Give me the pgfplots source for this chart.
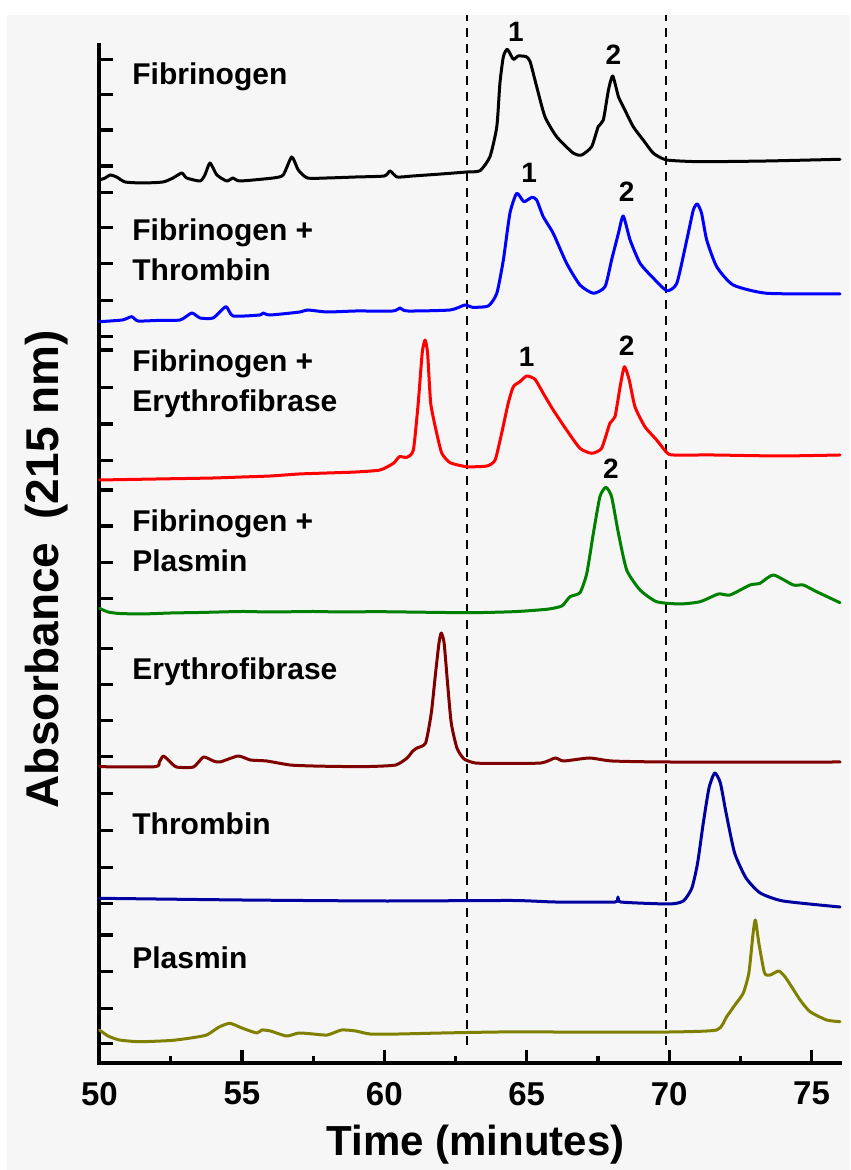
\documentclass[border=0pt]{standalone}
\usepackage{fontspec}
\setmainfont{Liberation Sans}
\usepackage{pgfplots}
\pgfplotsset{compat=1.18}
\definecolor{bgpanel}{HTML}{F6F6F6}
\definecolor{trblack}{HTML}{000000}
\definecolor{trblue}{HTML}{0000FF}
\definecolor{trred}{HTML}{FF0000}
\definecolor{trgreen}{HTML}{008000}
\definecolor{trmaroon}{HTML}{800000}
\definecolor{trnavy}{HTML}{0000A0}
\definecolor{trolive}{HTML}{808000}
\pgfplotsset{
    trace/.style={line width=1.5pt,line join=round,line cap=round,no marks,smooth,tension=0.35},
}
\tikzset{
    lbl/.style={font=\bfseries\fontsize{15}{20}\selectfont,anchor=west,align=left,inner sep=0pt},
    num/.style={font=\bfseries\fontsize{14}{16}\selectfont,inner sep=0pt},
}
\begin{document}
\begin{tikzpicture}
% page and grey panel (1 px = 0.5 pt)
\fill[white] (-49.75pt,-53.5pt) rectangle (375.25pt,531.5pt);
\fill[bgpanel] (-46.25pt,-53.5pt) rectangle (375.25pt,524pt);
\begin{axis}[
    scale only axis,
    width=370.25pt, height=509pt,
    xmin=50, xmax=76, ymin=0, ymax=1018,
    axis x line*=bottom, axis y line*=left,
    axis line style={line width=2pt,line cap=rect},
    tick align=inside,
    tick style={line width=1.6pt,black},
    major tick length=6.5pt, minor tick length=3.5pt,
    xtick={50,55,60,65,70,75},
    minor xtick={52.5,57.5,62.5,67.5,72.5},
    ytick={19.7,54.7,91.3,128,159.7,195.3,232.3,269.7,306.3,342.3,378.7,414.7,
           464.7,500.7,537,573,602.3,639,675.7,713,726.3,762.3,799.7,835.3,870.7,
           897,933,968.7,1003.7},
    yticklabels={},
    /pgf/number format/assume math mode=true,
    xticklabel style={font=\bfseries\fontsize{16.5}{18}\selectfont,yshift=-6pt},
    xlabel={Time (minutes)},
    ylabel={Absorbance\hspace{0.5em}(215 nm)},
    xlabel style={font=\bfseries\fontsize{21}{24}\selectfont,
        at={(axis description cs:0.508,-0.0904)},anchor=base},
    ylabel style={font=\bfseries\fontsize{23}{26}\selectfont,
        at={(axis description cs:-0.0709,0.485)},anchor=center},
    clip=false,
]
% dashed window
\addplot[black,line width=1.2pt,dash pattern=on 4.5pt off 3.5pt] coordinates {(62.9,18) (62.9,1048)};
\addplot[black,line width=1.2pt,dash pattern=on 4.5pt off 3.5pt] coordinates {(69.9,18) (69.9,1048)};

% Fibrinogen
\addplot[trace,trblack] coordinates {
(50.00,883) (50.20,885) (50.37,888) (50.60,886) (50.90,881) (51.53,880)
(52.23,881) (52.58,885) (52.89,890) (53.06,885) (53.53,882) (53.70,888)
(53.88,900) (54.12,888) (54.47,882) (54.69,885) (54.93,882) (56.10,885)
(56.45,888) (56.75,906) (56.98,893) (57.30,885) (58.00,885) (59.00,886)
(60.00,887) (60.20,892) (60.45,886) (61.00,887) (62.00,889) (62.90,891)
(63.36,892.3) (63.71,906.3) (63.95,936.3) (64.06,980) (64.18,1006.3)
(64.32,1013.7) (64.53,1003.7) (64.70,1007) (64.98,1006.3) (65.12,1001.3)
(65.35,976.3) (65.64,946.3) (66.05,926.3) (66.64,909.7) (66.93,908)
(67.28,916.3) (67.51,936.3) (67.69,943) (67.87,973) (68.02,987)
(68.22,966.3) (68.39,956.3) (68.74,936.3) (69.09,923) (69.45,909.7)
(69.92,903) (71.09,901.3) (73.43,902) (76.00,903.7)
};
% Fibrinogen + Thrombin
\addplot[trace,trblue] coordinates {
(50.00,741.3) (50.80,743) (51.13,746.3) (51.35,742) (52.00,742.5) (52.83,743)
(53.24,750) (53.53,745) (53.99,745) (54.44,756.3) (54.69,747) (55.64,748)
(55.74,750) (55.99,748) (57.04,751) (57.30,753) (58.00,751) (59.00,752)
(60.30,752) (60.55,755) (60.80,752) (62.31,753) (62.83,758) (63.10,755.7)
(63.65,757) (63.95,769.7) (64.18,803) (64.41,849.7) (64.65,869.7)
(64.90,861.3) (65.18,865.7) (65.35,863) (65.58,846.3) (65.93,829.7)
(66.40,799.7) (66.87,778) (67.34,769.7) (67.75,776.3) (67.98,803)
(68.22,829.7) (68.39,847) (68.63,823) (68.98,799.7) (69.45,784.7)
(69.92,772.3) (70.27,779.7) (70.62,823) (70.85,853) (70.99,859)
(71.14,849.7) (71.32,823) (71.67,796.3) (72.25,778) (73.43,769.7) (76.00,769)
};
% Fibrinogen + Erythrofibrase
\addplot[trace,trred] coordinates {
(50.00,583) (52.00,584) (54.00,585) (55.00,586) (56.00,587) (57.00,589)
(58.00,590) (59.00,591) (59.85,593) (60.32,599.7) (60.53,606.3) (60.79,605.7)
(61.02,613) (61.19,659.7) (61.33,709.7) (61.43,723) (61.52,709.7)
(61.63,659.7) (61.84,629.7) (62.02,609.7) (62.31,600.3) (62.89,596.3)
(63.60,597) (63.89,603) (64.12,629.7) (64.35,659.7) (64.53,676.3)
(64.76,681.3) (65.00,687) (65.29,683.7) (65.58,669.7) (65.93,653)
(66.40,633) (66.87,614.7) (67.28,609.7) (67.63,614.7) (67.92,639.7)
(68.10,646.3) (68.28,676.3) (68.43,696.3) (68.60,683) (68.80,656.3)
(69.15,636.3) (69.56,623) (69.92,610.3) (70.15,608) (71.55,608)
(73.89,607) (76.00,608)
};
% Fibrinogen + Plasmin
\addplot[trace,trgreen] coordinates {
(50.00,454.7) (50.30,451) (50.70,449.5) (51.50,449) (52.50,450) (53.50,450.5)
(55.00,451.5) (56.00,451) (57.50,451.5) (58.50,451) (59.85,451.3)
(62.90,450.3) (64.53,451.3) (65.70,453.7) (66.23,457) (66.52,466.3)
(66.87,470.3) (67.11,489.7) (67.34,529.7) (67.57,566.3) (67.78,575.7)
(67.98,566.3) (68.22,529.7) (68.51,493) (68.98,473) (69.56,461.3)
(70.38,459) (71.09,461.3) (71.73,469) (72.14,468) (72.84,478) (73.19,479.7)
(73.66,488) (74.36,478) (74.71,478) (75.18,471.3) (76.00,460.3)
};
% Erythrofibrase
\addplot[trace,trmaroon] coordinates {
(50.00,296.3) (51.95,296.3) (52.10,301) (52.24,307) (52.45,302) (52.70,296)
(53.30,296) (53.65,306) (54.00,302) (54.23,301) (54.87,307) (55.30,303)
(55.87,302) (56.69,298) (57.50,297) (58.50,296.5) (59.50,296.5) (60.40,298)
(60.80,305) (61.00,312) (61.15,315) (61.45,320) (61.65,350) (61.80,390)
(61.92,420) (62.00,430) (62.10,420) (62.22,380) (62.35,340) (62.55,315)
(62.80,304) (63.20,300) (64.00,299.5) (65.50,300) (66.00,305) (66.30,302)
(67.20,305) (68.00,302) (70.00,301) (76.00,301)
};
% Thrombin
\addplot[trace,trnavy] coordinates {
(50.00,164.7) (55.00,163) (60.00,162) (64.50,162.5) (66.00,161) (68.10,161)
(68.20,166) (68.30,161) (70.00,159) (70.50,162) (70.80,175) (71.00,200)
(71.20,240) (71.40,275) (71.60,290) (71.80,280) (72.00,250) (72.30,210)
(72.70,185) (73.20,170) (74.00,162) (76.00,156)
};
% Plasmin
\addplot[trace,trolive] coordinates {
(50.00,33) (50.30,27) (50.70,23) (51.40,21.3) (52.50,22.5) (53.20,25)
(53.76,28) (54.20,36) (54.58,39.7) (55.00,35) (55.52,30) (55.70,33)
(56.00,32) (56.57,27) (57.00,30) (57.50,29) (58.00,28) (58.50,33)
(59.00,32) (59.50,29) (60.50,29) (62.00,30) (64.00,31) (66.00,31)
(68.00,31) (70.00,31) (71.67,33) (72.02,46.3) (72.31,58) (72.60,69.7)
(72.80,90) (72.95,130) (73.03,143) (73.15,120) (73.35,90) (73.55,88)
(73.85,92) (74.10,85) (74.60,63) (74.95,51.3) (75.53,43) (76.00,41.3)
};

% trace names
\node[lbl] at (axis cs:51.14,986) {Fibrinogen};
\node[lbl] at (axis cs:51.14,813) {Fibrinogen +\\Thrombin};
\node[lbl] at (axis cs:51.14,679.5) {Fibrinogen +\\Erythrofibrase};
\node[lbl] at (axis cs:51.14,522.5) {Fibrinogen +\\Plasmin};
\node[lbl] at (axis cs:51.14,391) {Erythrofibrase};
\node[lbl] at (axis cs:51.14,239) {Thrombin};
\node[lbl] at (axis cs:51.14,105) {Plasmin};
% peak numbers
\node[num] at (axis cs:64.62,1031.3) {1};
\node[num] at (axis cs:68.04,1008) {2};
\node[num] at (axis cs:65.09,890.3) {1};
\node[num] at (axis cs:68.51,871.3) {2};
\node[num] at (axis cs:65.00,706.3) {1};
\node[num] at (axis cs:68.51,717) {2};
\node[num] at (axis cs:67.96,594.7) {2};
\end{axis}
\pgfresetboundingbox
\path[use as bounding box] (-49.75pt,-53.5pt) rectangle (375.25pt,531.5pt);
\end{tikzpicture}
\end{document}
